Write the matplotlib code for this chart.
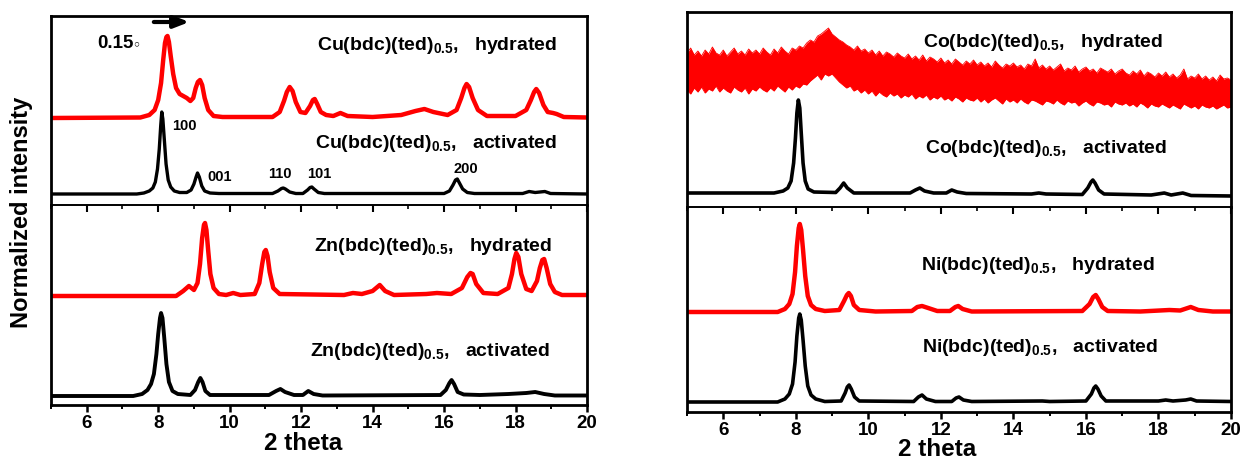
import numpy as np
import matplotlib
matplotlib.use('Agg')
import matplotlib.pyplot as plt

plt.rcParams['font.family'] = ['Liberation Sans', 'DejaVu Sans']
plt.rcParams['font.weight'] = 'bold'
plt.rcParams['mathtext.fontset'] = 'custom'
plt.rcParams['mathtext.rm'] = 'Liberation Sans:bold'
plt.rcParams['mathtext.it'] = 'Liberation Sans:bold'
plt.rcParams['mathtext.bf'] = 'Liberation Sans:bold'

# ---- data (2 theta, intensity in a.u. above baseline) ----
cu_act_x = [5, 7.4, 7.6, 7.75, 7.85, 7.92, 7.98, 8.03, 8.07, 8.1, 8.13, 8.17, 8.22, 8.28, 8.35, 8.45, 8.6,
            8.8, 8.92, 9.0, 9.06, 9.1, 9.15, 9.22, 9.3, 9.45, 9.7,
            11.2, 11.35, 11.45, 11.5, 11.56, 11.68, 11.85, 12.05, 12.18, 12.25, 12.3, 12.36, 12.48, 12.65,
            16.0, 16.15, 16.25, 16.32, 16.37, 16.43, 16.52, 16.65, 16.85,
            18.2, 18.38, 18.55, 18.82, 18.98, 20]
cu_act_y = [0, 0, 1, 3, 6, 12, 25, 45, 68, 82, 75, 55, 30, 14, 7, 3, 1.5,
            1.5, 4, 10, 17, 21, 17, 8, 3, 1, 0.5,
            0.5, 3, 5.5, 6, 5, 2, 0.5, 0.5, 4, 6.5, 7, 5, 1.5, 0.5,
            0.5, 3, 9, 14, 15, 11, 5, 1.5, 0.5,
            0.5, 2.5, 1.5, 2.5, 0.5, 0]

cu_hyd_x = [5, 7.5, 7.75, 7.9, 8.0, 8.08, 8.14, 8.19, 8.23, 8.26, 8.3, 8.35, 8.42, 8.5, 8.6, 8.7, 8.8,
            8.9, 8.98, 9.05, 9.11, 9.17, 9.23, 9.3, 9.4, 9.55, 9.8,
            11.2, 11.4, 11.52, 11.6, 11.68, 11.76, 11.85, 11.98, 12.12, 12.25, 12.33, 12.38, 12.45, 12.55,
            12.7, 12.9, 13.1, 13.3, 14.0, 14.8, 15.2, 15.45, 15.7, 16.1, 16.35, 16.48, 16.57, 16.63, 16.7,
            16.8, 16.95, 17.2, 18.0, 18.3, 18.43, 18.52, 18.58, 18.66, 18.78, 18.9, 19.05, 19.15, 19.35, 20]
cu_hyd_y = [0, 0.5, 3, 8, 18, 35, 58, 75, 81, 82, 76, 62, 44, 30, 24, 22, 20,
            17, 20, 30, 36, 38, 33, 20, 8, 2, 1,
            1, 6, 17, 26, 31, 27, 16, 6, 5, 12, 18, 19, 14, 6,
            3, 2, 5, 2, 1, 3, 7, 9, 6, 3, 8, 20, 30, 34, 31,
            20, 8, 2, 2, 8, 18, 26, 29, 25, 13, 6, 5, 4, 1, 0.5]

zn_hyd_x = [5, 8.5, 8.7, 8.86, 9.0, 9.1, 9.17, 9.23, 9.28, 9.31, 9.35, 9.4, 9.46, 9.55, 9.7, 9.9, 10.1,
            10.3, 10.7, 10.83, 10.91, 10.97, 11.01, 11.06, 11.12, 11.22, 11.4, 13.2, 13.45, 13.7, 14.0,
            14.2, 14.35, 14.6, 15.5, 15.8, 16.2, 16.5, 16.65, 16.74, 16.8, 16.9, 17.1, 17.5, 17.8, 17.9,
            17.97, 18.02, 18.08, 18.16, 18.3, 18.45, 18.6, 18.68, 18.75, 18.8, 18.87, 18.97, 19.1, 19.3, 20]
zn_hyd_y = [0, 0, 5, 10, 6, 13, 32, 58, 71, 73, 66, 45, 22, 8, 2, 1, 3,
            1, 2, 13, 32, 44, 46, 40, 24, 8, 2, 1, 3, 2, 5,
            11, 5, 1, 2, 3, 2, 8, 19, 23, 22, 12, 3, 2, 8, 22,
            37, 43, 39, 22, 7, 5, 15, 28, 36, 37, 28, 12, 4, 1, 1]

zn_act_x = [5, 7.3, 7.55, 7.7, 7.8, 7.88, 7.95, 8.0, 8.05, 8.08, 8.12, 8.17, 8.23, 8.3, 8.4, 8.55, 8.9,
            9.03, 9.12, 9.18, 9.24, 9.32, 9.45,
            11.1, 11.3, 11.42, 11.55, 11.8, 12.05, 12.2, 12.35, 12.6, 15.9, 16.05, 16.15, 16.21, 16.28,
            16.38, 16.55, 17.0, 17.8, 18.3, 18.55, 18.8, 19.1, 20]
zn_act_y = [0, 0, 2, 6, 12, 22, 42, 62, 78, 83, 78, 58, 32, 14, 5, 2, 1,
            6, 14, 18, 14, 5, 1,
            1, 5, 7, 4, 1, 1, 5, 2, 0.5, 1, 6, 13, 16, 12,
            4, 1.5, 1, 2, 3, 4, 2, 0.5, 0.5]

# Co hydrated: noisy band, upper / lower envelope on a 0.1 deg grid
co_hyd_x = np.round(np.arange(5.0, 20.05, 0.1), 1)
co_hyd_hi = [47, 52, 45, 49, 44, 50, 46, 53, 47, 45,
             50, 44, 48, 52, 46, 49, 45, 51, 47, 50,
             46, 52, 48, 45, 51, 47, 53, 49, 46, 52,
             50, 54, 52, 57, 60, 58, 64, 66, 69, 72,
             66, 63, 60, 58, 55, 53, 50, 54, 49, 51,
             47, 50, 45, 49, 44, 48, 46, 43, 47, 44,
             42, 46, 41, 44, 40, 45, 39, 43, 41, 38,
             42, 37, 40, 36, 41, 38, 35, 39, 36, 40,
             35, 38, 34, 37, 33, 39, 35, 32, 36, 34,
             37, 33, 35, 31, 36, 34, 41, 32, 35, 31,
             34, 30, 33, 36, 29, 32, 30, 34, 28, 31,
             33, 29, 31, 27, 32, 30, 28, 31, 26, 29,
             31, 27, 25, 29, 26, 30, 24, 28, 26, 23,
             27, 24, 28, 23, 26, 22, 25, 31, 21, 24,
             22, 26, 21, 24, 20, 23, 19, 25, 21, 22,
             20]
co_hyd_lo = [10, 6, 12, 8, 13, 7, 11, 9, 14, 8,
             12, 9, 7, 13, 10, 8, 12, 6, 11, 9,
             13, 10, 8, 12, 9, 14, 11, 8, 13, 10,
             14, 12, 16, 15, 19, 22, 25, 20, 26, 24,
             26, 22, 18, 15, 12, 14, 9, 11, 7, 10,
             6, 9, 4, 8, 5, 3, 7, 4, 6, 2,
             5, 3, 6, 1, 4, 2, 5, 0, 3, 1,
             4, 0, 2, -1, 3, 1, -2, 2, 0, -1,
             2, -2, 1, -3, 0, 2, -1, -4, 1, -2,
             0, -3, 1, -2, -4, 0, -1, -3, -5, -1,
             -2, -4, 0, -3, -5, -1, -3, -2, -6, -3,
             -1, -4, -6, -2, -3, -5, -4, -7, -2, -4,
             -5, -3, -6, -4, -7, -3, -5, -8, -4, -6,
             -7, -4, -6, -8, -5, -7, -9, -4, -6, -8,
             -6, -9, -5, -7, -8, -6, -9, -7, -5, -8,
             -7]

co_act_x = [5, 7.4, 7.65, 7.78, 7.87, 7.94, 7.99, 8.03, 8.07, 8.11, 8.15, 8.2, 8.26, 8.34, 8.5, 9.1, 9.22,
            9.32, 9.42, 9.6, 11.15, 11.3, 11.42, 11.55, 11.8, 12.15, 12.3, 12.45, 12.7, 14.5, 14.7, 14.9,
            15.9, 16.05, 16.14, 16.19, 16.25, 16.35, 16.5, 17.8, 18.16, 18.35, 18.67, 18.9, 20]
co_act_y = [0, 0, 2, 5, 12, 30, 55, 80, 93, 85, 60, 30, 12, 4, 1, 0.5, 5,
            10, 5, 0, 0, 3, 5, 2, 0, 0, 3, 1, -0.5, -1, 0, -1,
            -1.5, 5, 11, 13, 10, 3, -1, -2, 0, -2, 0, -2.5, -3]

ni_hyd_x = [5, 7.5, 7.7, 7.82, 7.91, 7.98, 8.03, 8.08, 8.11, 8.15, 8.2, 8.26, 8.33, 8.42, 8.55, 8.8, 9.2,
            9.33, 9.41, 9.46, 9.52, 9.6, 9.75,
            10.2, 11.2, 11.35, 11.48, 11.65, 11.9, 12.25, 12.4, 12.48, 12.6, 12.85, 15.9, 16.1, 16.2,
            16.27, 16.34, 16.45, 16.6, 17.5, 18.3, 18.6, 18.89, 19.1, 19.5, 20]
ni_hyd_y = [0, 0, 3, 8, 18, 40, 66, 84, 88, 82, 62, 36, 16, 7, 3, 1, 2,
            11, 17, 19, 16, 7, 2,
            0.5, 1, 5, 6, 4, 1, 1, 5, 6, 3, 0.5, 1, 8, 15,
            17, 13, 5, 1, 0.5, 2, 1.5, 5, 2, 0.5, 0.5]

ni_act_x = [5, 7.5, 7.7, 7.82, 7.91, 7.98, 8.03, 8.08, 8.11, 8.15, 8.2, 8.26, 8.33, 8.42, 8.55, 8.8, 9.25,
            9.36, 9.42, 9.47, 9.53, 9.62, 9.75,
            11.25, 11.38, 11.48, 11.6, 11.85, 12.3, 12.42, 12.5, 12.62, 12.85, 14.8, 15.0, 16.0, 16.15,
            16.22, 16.27, 16.33, 16.42, 16.55, 18.0, 18.2, 18.4, 18.75, 18.89, 19.05, 20]
ni_act_y = [0, 0, 3, 8, 18, 40, 66, 84, 88, 82, 62, 36, 16, 7, 3, 0.5, 1,
            9, 15, 17, 13, 5, 1,
            0.5, 5, 7, 3, 0.5, 0.5, 4, 5, 2, 0.5, 1, 0.5, 1, 8,
            14, 16, 13, 6, 1, 1, 2, 1, 2, 3, 1, 0.5]

hkl_labels = ['100', '001', '110', '101', '200']
hkl_pos = [8.74, 9.72, 11.4, 12.5, 16.62]
hkl_height = [79, 28, 31, 31, 36]

xticks_major = [6, 8, 10, 12, 14, 16, 18, 20]

RED = '#ff0000'
BLK = '#000000'
FS = 14

fig = plt.figure(figsize=(12.44, 4.59), dpi=100)

W, H = 1244.0, 459.0
def add_ax(l, r, t, b):
    return fig.add_axes([l / W, 1 - b / H, (r - l) / W, (b - t) / H])

axL1 = add_ax(51, 587, 16, 205)
axL2 = add_ax(51, 587, 205, 405)
axR1 = add_ax(687, 1231, 12, 207)
axR2 = add_ax(687, 1231, 207, 412)

def style(ax, top, height):
    ax.set_xlim(5, 20)
    ax.set_ylim(0, height)
    ax.set_yticks([])
    ax.set_xticks(xticks_major)
    ax.set_xticks(np.arange(5, 20.5, 1), minor=True)
    for s in ax.spines.values():
        s.set_linewidth(2)
    if top:
        ax.spines['bottom'].set_linewidth(1.2)
        ax.tick_params(axis='x', which='both', direction='out', labelbottom=False)
        ax.tick_params(axis='x', which='major', length=5, width=1.5)
        ax.tick_params(axis='x', which='minor', length=3, width=1.2)
    else:
        ax.patch.set_visible(False)
        ax.spines['top'].set_linewidth(1.2)
        ax.tick_params(axis='x', which='major', direction='out', length=5, width=1.8,
                       labelsize=13.5, pad=2)
        ax.tick_params(axis='x', which='minor', direction='out', length=3, width=1.4)
        for lab in ax.get_xticklabels():
            lab.set_fontweight('bold')

style(axL1, True, 189)
style(axL2, False, 200)
style(axR1, True, 195)
style(axR2, False, 205)

# left top: Cu
axL1.plot(cu_hyd_x, np.array(cu_hyd_y) + 87, color=RED, lw=3.2)
axL1.plot(cu_act_x, np.array(cu_act_y) + 11, color=BLK, lw=2.4)
axL1.text(12.44, 159, r'Cu(bdc)(ted)$_{0.5}$,   hydrated', fontsize=FS, fontweight='bold', va='center')
axL1.text(12.40, 62, r'Cu(bdc)(ted)$_{0.5}$,   activated', fontsize=FS, fontweight='bold', va='center')
for lab, px, hy in zip(hkl_labels, hkl_pos, hkl_height):
    axL1.text(px, hy, lab, fontsize=10.5, fontweight='bold', ha='center', va='center')
axL1.text(6.3, 161, '0.15', fontsize=13.5, fontweight='bold', va='center')
axL1.text(7.28, 160, '\u25e6', fontsize=9, va='center', family=['DejaVu Sans'])
axL1.annotate('', xy=(8.95, 183), xytext=(7.8, 183),
              arrowprops=dict(arrowstyle='-|>,head_length=0.9,head_width=0.35', color=BLK, lw=3))

# left bottom: Zn
axL2.plot(zn_hyd_x, np.array(zn_hyd_y) + 109, color=RED, lw=3.2)
axL2.plot(zn_act_x, np.array(zn_act_y) + 9, color=BLK, lw=2.8)
axL2.text(12.36, 158, r'Zn(bdc)(ted)$_{0.5}$,   hydrated', fontsize=FS, fontweight='bold', va='center')
axL2.text(12.24, 53, r'Zn(bdc)(ted)$_{0.5}$,   activated', fontsize=FS, fontweight='bold', va='center')

# right top: Co
axR1.fill_between(co_hyd_x, np.array(co_hyd_lo) + 107, np.array(co_hyd_hi) + 107,
                  color=RED, lw=0)
axR1.plot(co_hyd_x, np.array(co_hyd_hi) + 107, color=RED, lw=0.6)
axR1.plot(co_hyd_x, np.array(co_hyd_lo) + 107, color=RED, lw=0.6)
axR1.plot(co_act_x, np.array(co_act_y) + 14, color=BLK, lw=2.6)
axR1.text(11.51, 164, r'Co(bdc)(ted)$_{0.5}$,   hydrated', fontsize=FS, fontweight='bold', va='center')
axR1.text(11.55, 58, r'Co(bdc)(ted)$_{0.5}$,   activated', fontsize=FS, fontweight='bold', va='center')

# right bottom: Ni
axR2.plot(ni_hyd_x, np.array(ni_hyd_y) + 100, color=RED, lw=3.2)
axR2.plot(ni_act_x, np.array(ni_act_y) + 10, color=BLK, lw=2.6)
axR2.text(11.46, 147, r'Ni(bdc)(ted)$_{0.5}$,   hydrated', fontsize=FS, fontweight='bold', va='center')
axR2.text(11.48, 65, r'Ni(bdc)(ted)$_{0.5}$,   activated', fontsize=FS, fontweight='bold', va='center')

# axis titles
fig.text(22 / W, 1 - 212 / H, 'Normalized intensity', rotation=90, fontsize=17,
         fontweight='bold', ha='center', va='center')
fig.text(303 / W, 1 - 443 / H, '2 theta', fontsize=17.5, fontweight='bold', ha='center', va='center')
fig.text(937 / W, 1 - 449 / H, '2 theta', fontsize=17.5, fontweight='bold', ha='center', va='center')

fig.savefig('out.png', dpi=100)
